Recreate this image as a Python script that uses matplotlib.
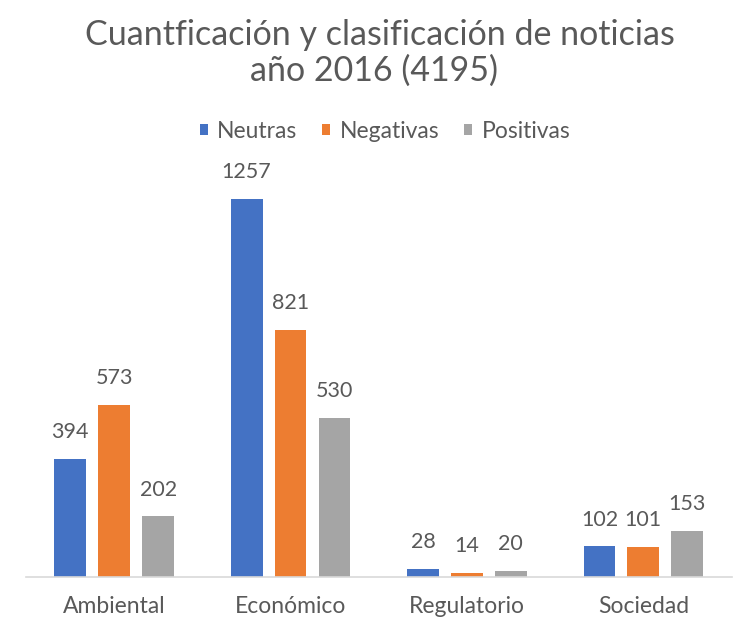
import numpy as np
import matplotlib.pyplot as plt

# data
categorias = ['Ambiental', 'Económico', 'Regulatorio', 'Sociedad']
series = ['Neutras', 'Negativas', 'Positivas']
neutras = [394, 1257, 28, 102]
negativas = [573, 821, 14, 101]
positivas = [202, 530, 20, 153]

colores = ['#4472C4', '#ED7D31', '#A5A5A5']
txt = '#595959'

plt.rcParams['font.family'] = ['Lato', 'DejaVu Sans']

fig = plt.figure(figsize=(7.39, 6.2), dpi=100)
ax = fig.add_axes([26/739, 43/620, (731.5-26)/739, 421/620])

x = np.arange(len(categorias))
w = 0.18
paso = 0.249
for i, (nombre, vals) in enumerate(zip(series, [neutras, negativas, positivas])):
    pos = x + (i - 1)*paso
    bars = ax.bar(pos, vals, width=w, color=colores[i], label=nombre)
    for b, v in zip(bars, vals):
        ax.annotate(str(v), (b.get_x() + b.get_width()/2, v), xytext=(0, 12),
                    textcoords='offset points', ha='center', va='bottom',
                    fontsize=15.5, color=txt)

ax.set_xlim(-0.5, 3.5)
ax.set_ylim(0, 1400)
ax.set_xticks(x)
ax.set_xticklabels(categorias, fontsize=16.5, color=txt)
ax.tick_params(axis='x', length=0, pad=14)
ax.set_yticks([])
for s in ['top', 'right', 'left']:
    ax.spines[s].set_visible(False)
ax.spines['bottom'].set_color('#D9D9D9')
ax.spines['bottom'].set_linewidth(1.2)

fig.text(380/739, 1 - 35/620, 'Cuantficación y clasificación de noticias', ha='center', va='center',
         fontsize=24.5, color=txt)
fig.text(374/739, 1 - 71/620, 'año 2016 (4195)', ha='center', va='center', fontsize=24.5, color=txt)

fig.legend(loc='center', bbox_to_anchor=(385/739, 1 - 131/620), ncol=3, frameon=False,
           fontsize=16.5, labelcolor=txt, handlelength=0.35, handleheight=0.35,
           handletextpad=0.4, columnspacing=1.1)

plt.savefig('out.png', dpi=100)
